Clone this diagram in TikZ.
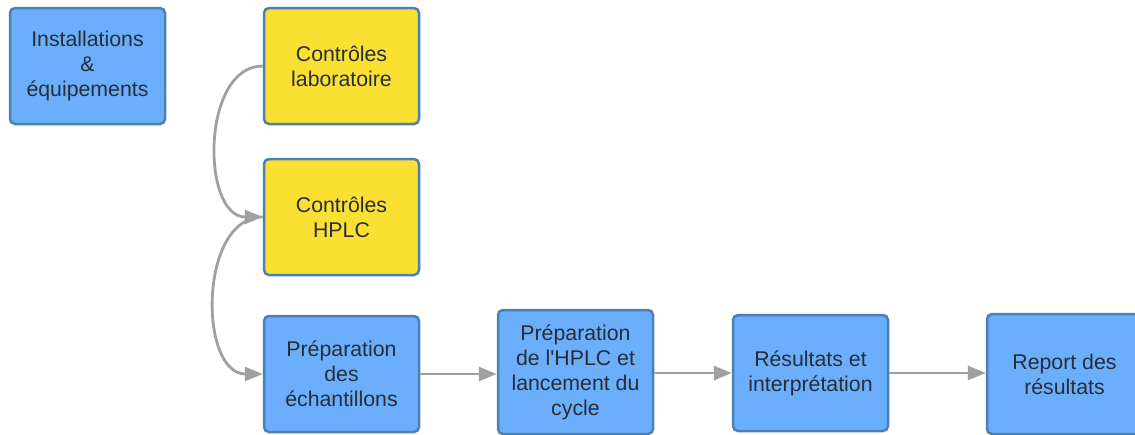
\documentclass[tikz,border=0pt]{standalone}
\usepackage{fontspec}
\setmainfont{Liberation Sans}[Ligatures=TeXOff]
\usetikzlibrary{arrows.meta}
\definecolor{boxblue}{RGB}{106,174,252}
\definecolor{boxyellow}{RGB}{249,224,50}
\definecolor{boxborder}{RGB}{74,128,181}
\definecolor{txt}{RGB}{40,45,55}
\definecolor{arrowgray}{RGB}{160,160,160}
\tikzset{
  box/.style={draw=boxborder, line width=2.5pt, rounded corners=5pt,
    minimum width=155pt, minimum height=116pt, align=center, inner sep=0pt,
    text=txt, font=\fontsize{21.3}{25}\selectfont},
  bluebox/.style={box, fill=boxblue},
  yellowbox/.style={box, fill=boxyellow},
  conn/.style={draw=arrowgray, line width=2.8pt,
    -{Triangle[length=18pt,width=14pt,fill=arrowgray]}},
}
\begin{document}
\begin{tikzpicture}[x=1pt,y=-1pt]
\useasboundingbox (0,0) rectangle (1135,434);
\node[bluebox] (inst) at (87.5,66) {Installations\\\&\\équipements};
\node[yellowbox] (lab) at (341.5,66) {Contrôles\\laboratoire};
\node[yellowbox] (hplc) at (341.5,217) {Contrôles\\HPLC};
\node[bluebox] (prep) at (341.5,374) {Préparation\\des\\échantillons};
\node[bluebox, minimum height=124pt] (prephplc) at (575.5,372) {Préparation\\de l'HPLC et\\lancement du\\cycle};
\node[bluebox] (res) at (810.5,373) {Résultats et\\interprétation};
\node[bluebox, minimum height=120pt] (rep) at (1064.5,374) {Report des\\résultats};
\draw[conn] (lab.west) to[out=180,in=180,looseness=1.05] (hplc.west);
\draw[conn] (hplc.west) to[out=180,in=180,looseness=1.05] (prep.west);
\draw[conn] (prep.east) -- (prep.east -| prephplc.west);
\draw[conn] (prephplc.east |- res.west) -- (res.west);
\draw[conn] (res.east) -- (res.east -| rep.west);
\end{tikzpicture}
\end{document}
